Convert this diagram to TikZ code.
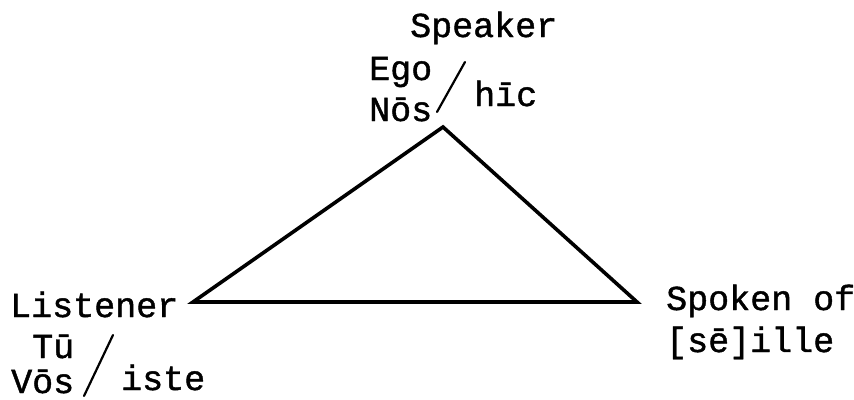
\documentclass[tikz,border=0pt]{standalone}
\usepackage{fontspec}
\setmonofont[FakeBold=1.2]{Liberation Mono}
\begin{document}
\begin{tikzpicture}[x=1pt,y=-1pt,
  lbl/.style={anchor=base west,inner sep=0pt,font=\ttfamily\fontsize{35}{40}\selectfont},
  edge/.style={line width=3.6pt,line join=miter},
  slashline/.style={line width=2.2pt,line cap=round}]
\useasboundingbox (0,0) rectangle (854,399);
\coordinate (top) at (443,127);
\coordinate (lft) at (193,302);
\coordinate (rgt) at (637,302);
\draw[edge] (top) -- (lft) -- (rgt) -- cycle;
\node[lbl] (speaker) at (410,37) {Speaker};
\node[lbl] (ego) at (369,80) {Ego};
\node[lbl] (nos) at (369,121) {Nōs};
\node[lbl] (hic) at (474,106) {hīc};
\coordinate (s1a) at (465,62);
\coordinate (s1b) at (437,112);
\draw[slashline] (s1a) -- (s1b);
\node[lbl] (listener) at (10,317) {Listener};
\node[lbl] (tu) at (32,358) {Tū};
\node[lbl] (vos) at (11,393) {Vōs};
\node[lbl] (iste) at (121,390) {iste};
\coordinate (s2a) at (113,335);
\coordinate (s2b) at (84,396);
\draw[slashline] (s2a) -- (s2b);
\node[lbl] (spoken) at (666,310) {Spoken of};
\node[lbl] (ille) at (666,352) {[sē]ille};
\end{tikzpicture}
\end{document}
